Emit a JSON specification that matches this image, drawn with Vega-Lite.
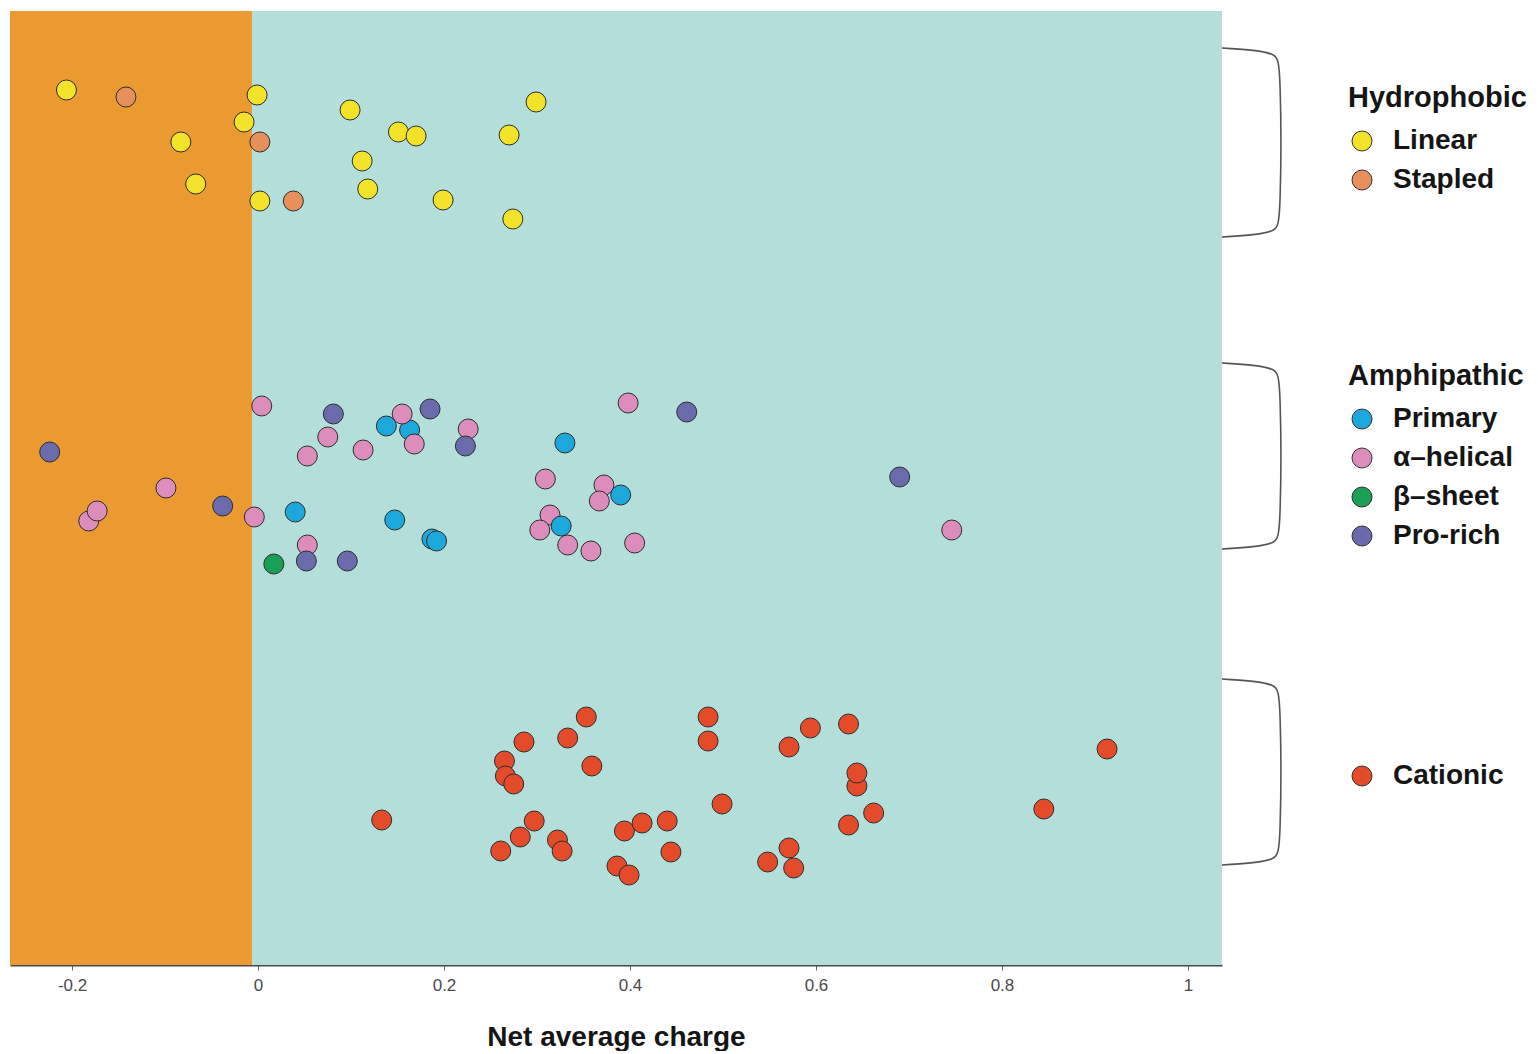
{
  "$schema": "https://vega.github.io/schema/vega-lite/v6.json",
  "width": 1212,
  "height": 954,
  "padding": {"left": 10, "top": 11, "right": 0, "bottom": 0},
  "background": "white",
  "config": {
    "view": {"stroke": null},
    "font": "Liberation Sans",
    "legend": {
      "orient": "none",
      "padding": 0,
      "titleFont": "Liberation Sans",
      "titleFontSize": 29,
      "titleFontWeight": "bold",
      "titleColor": "#151515",
      "titlePadding": 14,
      "labelFont": "Liberation Sans",
      "labelFontSize": 28,
      "labelFontWeight": "bold",
      "labelColor": "#151515",
      "labelOffset": 17,
      "symbolType": "circle",
      "symbolSize": 400,
      "symbolStrokeColor": "#333333",
      "symbolStrokeWidth": 1,
      "symbolOpacity": 1,
      "rowPadding": 11
    }
  },
  "datasets": {
    "regions": [
      {"region": "negative", "from": -0.2667, "to": -0.0065},
      {"region": "positive", "from": -0.0065, "to": 1.0366}
    ],
    "brackets": [
      {"group": "Hydrophobic", "i": 1, "x": 1.0366, "y": 917},
      {"group": "Hydrophobic", "i": 2, "x": 1.072, "y": 915},
      {"group": "Hydrophobic", "i": 3, "x": 1.0946, "y": 911},
      {"group": "Hydrophobic", "i": 4, "x": 1.1, "y": 901},
      {"group": "Hydrophobic", "i": 5, "x": 1.1, "y": 744},
      {"group": "Hydrophobic", "i": 6, "x": 1.0946, "y": 734},
      {"group": "Hydrophobic", "i": 7, "x": 1.072, "y": 730},
      {"group": "Hydrophobic", "i": 8, "x": 1.0366, "y": 728},
      {"group": "Amphipathic", "i": 1, "x": 1.0366, "y": 602},
      {"group": "Amphipathic", "i": 2, "x": 1.072, "y": 600},
      {"group": "Amphipathic", "i": 3, "x": 1.0946, "y": 596},
      {"group": "Amphipathic", "i": 4, "x": 1.1, "y": 586},
      {"group": "Amphipathic", "i": 5, "x": 1.1, "y": 432},
      {"group": "Amphipathic", "i": 6, "x": 1.0946, "y": 422},
      {"group": "Amphipathic", "i": 7, "x": 1.072, "y": 418},
      {"group": "Amphipathic", "i": 8, "x": 1.0366, "y": 416},
      {"group": "Cationic", "i": 1, "x": 1.0366, "y": 286},
      {"group": "Cationic", "i": 2, "x": 1.072, "y": 284},
      {"group": "Cationic", "i": 3, "x": 1.0946, "y": 280},
      {"group": "Cationic", "i": 4, "x": 1.1, "y": 270},
      {"group": "Cationic", "i": 5, "x": 1.1, "y": 116},
      {"group": "Cationic", "i": 6, "x": 1.0946, "y": 106},
      {"group": "Cationic", "i": 7, "x": 1.072, "y": 102},
      {"group": "Cationic", "i": 8, "x": 1.0366, "y": 100}
    ],
    "peptides": [
      {"class": "Hydrophobic", "type": "Linear", "charge": -0.206, "y": 875},
      {"class": "Hydrophobic", "type": "Linear", "charge": -0.001, "y": 870},
      {"class": "Hydrophobic", "type": "Linear", "charge": 0.099, "y": 855},
      {"class": "Hydrophobic", "type": "Linear", "charge": 0.299, "y": 863},
      {"class": "Hydrophobic", "type": "Linear", "charge": -0.015, "y": 843},
      {"class": "Hydrophobic", "type": "Linear", "charge": 0.151, "y": 833},
      {"class": "Hydrophobic", "type": "Linear", "charge": 0.170, "y": 829},
      {"class": "Hydrophobic", "type": "Linear", "charge": 0.270, "y": 830},
      {"class": "Hydrophobic", "type": "Linear", "charge": -0.083, "y": 823},
      {"class": "Hydrophobic", "type": "Linear", "charge": 0.112, "y": 804},
      {"class": "Hydrophobic", "type": "Linear", "charge": -0.067, "y": 781},
      {"class": "Hydrophobic", "type": "Linear", "charge": 0.118, "y": 776},
      {"class": "Hydrophobic", "type": "Linear", "charge": 0.002, "y": 764},
      {"class": "Hydrophobic", "type": "Linear", "charge": 0.199, "y": 765},
      {"class": "Hydrophobic", "type": "Linear", "charge": 0.274, "y": 746},
      {"class": "Hydrophobic", "type": "Stapled", "charge": -0.142, "y": 868},
      {"class": "Hydrophobic", "type": "Stapled", "charge": 0.002, "y": 823},
      {"class": "Hydrophobic", "type": "Stapled", "charge": 0.038, "y": 764},

      {"class": "Amphipathic", "type": "Primary", "charge": 0.163, "y": 535},
      {"class": "Amphipathic", "type": "Pro-rich", "charge": 0.081, "y": 551},
      {"class": "Amphipathic", "type": "α–helical", "charge": 0.004, "y": 559},
      {"class": "Amphipathic", "type": "α–helical", "charge": 0.155, "y": 551},
      {"class": "Amphipathic", "type": "α–helical", "charge": 0.075, "y": 528},
      {"class": "Amphipathic", "type": "α–helical", "charge": 0.053, "y": 509},
      {"class": "Amphipathic", "type": "α–helical", "charge": 0.113, "y": 515},
      {"class": "Amphipathic", "type": "α–helical", "charge": 0.168, "y": 521},
      {"class": "Amphipathic", "type": "α–helical", "charge": 0.226, "y": 536},
      {"class": "Amphipathic", "type": "α–helical", "charge": 0.398, "y": 562},
      {"class": "Amphipathic", "type": "α–helical", "charge": -0.099, "y": 477},
      {"class": "Amphipathic", "type": "α–helical", "charge": -0.182, "y": 444},
      {"class": "Amphipathic", "type": "α–helical", "charge": -0.173, "y": 454},
      {"class": "Amphipathic", "type": "α–helical", "charge": -0.004, "y": 448},
      {"class": "Amphipathic", "type": "α–helical", "charge": 0.053, "y": 420},
      {"class": "Amphipathic", "type": "α–helical", "charge": 0.309, "y": 486},
      {"class": "Amphipathic", "type": "α–helical", "charge": 0.372, "y": 480},
      {"class": "Amphipathic", "type": "α–helical", "charge": 0.367, "y": 464},
      {"class": "Amphipathic", "type": "α–helical", "charge": 0.314, "y": 450},
      {"class": "Amphipathic", "type": "α–helical", "charge": 0.303, "y": 435},
      {"class": "Amphipathic", "type": "α–helical", "charge": 0.333, "y": 420},
      {"class": "Amphipathic", "type": "α–helical", "charge": 0.358, "y": 414},
      {"class": "Amphipathic", "type": "α–helical", "charge": 0.405, "y": 422},
      {"class": "Amphipathic", "type": "α–helical", "charge": 0.746, "y": 435},
      {"class": "Amphipathic", "type": "Primary", "charge": 0.138, "y": 539},
      {"class": "Amphipathic", "type": "Primary", "charge": 0.330, "y": 522},
      {"class": "Amphipathic", "type": "Primary", "charge": 0.390, "y": 470},
      {"class": "Amphipathic", "type": "Primary", "charge": 0.040, "y": 453},
      {"class": "Amphipathic", "type": "Primary", "charge": 0.147, "y": 445},
      {"class": "Amphipathic", "type": "Primary", "charge": 0.326, "y": 439},
      {"class": "Amphipathic", "type": "Primary", "charge": 0.187, "y": 426},
      {"class": "Amphipathic", "type": "Primary", "charge": 0.192, "y": 424},
      {"class": "Amphipathic", "type": "Pro-rich", "charge": -0.224, "y": 513},
      {"class": "Amphipathic", "type": "Pro-rich", "charge": -0.038, "y": 459},
      {"class": "Amphipathic", "type": "Pro-rich", "charge": 0.185, "y": 556},
      {"class": "Amphipathic", "type": "Pro-rich", "charge": 0.223, "y": 519},
      {"class": "Amphipathic", "type": "Pro-rich", "charge": 0.461, "y": 553},
      {"class": "Amphipathic", "type": "Pro-rich", "charge": 0.690, "y": 488},
      {"class": "Amphipathic", "type": "Pro-rich", "charge": 0.052, "y": 404},
      {"class": "Amphipathic", "type": "Pro-rich", "charge": 0.096, "y": 404},
      {"class": "Amphipathic", "type": "β–sheet", "charge": 0.017, "y": 401},

      {"class": "Cationic", "type": "Cationic", "charge": 0.353, "y": 248},
      {"class": "Cationic", "type": "Cationic", "charge": 0.484, "y": 248},
      {"class": "Cationic", "type": "Cationic", "charge": 0.286, "y": 223},
      {"class": "Cationic", "type": "Cationic", "charge": 0.333, "y": 227},
      {"class": "Cationic", "type": "Cationic", "charge": 0.484, "y": 224},
      {"class": "Cationic", "type": "Cationic", "charge": 0.265, "y": 204},
      {"class": "Cationic", "type": "Cationic", "charge": 0.266, "y": 189},
      {"class": "Cationic", "type": "Cationic", "charge": 0.275, "y": 181},
      {"class": "Cationic", "type": "Cationic", "charge": 0.359, "y": 199},
      {"class": "Cationic", "type": "Cationic", "charge": 0.133, "y": 145},
      {"class": "Cationic", "type": "Cationic", "charge": 0.499, "y": 161},
      {"class": "Cationic", "type": "Cationic", "charge": 0.297, "y": 144},
      {"class": "Cationic", "type": "Cationic", "charge": 0.282, "y": 128},
      {"class": "Cationic", "type": "Cationic", "charge": 0.261, "y": 114},
      {"class": "Cationic", "type": "Cationic", "charge": 0.322, "y": 125},
      {"class": "Cationic", "type": "Cationic", "charge": 0.327, "y": 114},
      {"class": "Cationic", "type": "Cationic", "charge": 0.394, "y": 134},
      {"class": "Cationic", "type": "Cationic", "charge": 0.413, "y": 142},
      {"class": "Cationic", "type": "Cationic", "charge": 0.440, "y": 144},
      {"class": "Cationic", "type": "Cationic", "charge": 0.444, "y": 113},
      {"class": "Cationic", "type": "Cationic", "charge": 0.386, "y": 99},
      {"class": "Cationic", "type": "Cationic", "charge": 0.399, "y": 90},
      {"class": "Cationic", "type": "Cationic", "charge": 0.594, "y": 237},
      {"class": "Cationic", "type": "Cationic", "charge": 0.635, "y": 241},
      {"class": "Cationic", "type": "Cationic", "charge": 0.571, "y": 218},
      {"class": "Cationic", "type": "Cationic", "charge": 0.913, "y": 216},
      {"class": "Cationic", "type": "Cationic", "charge": 0.644, "y": 179},
      {"class": "Cationic", "type": "Cationic", "charge": 0.644, "y": 192},
      {"class": "Cationic", "type": "Cationic", "charge": 0.662, "y": 152},
      {"class": "Cationic", "type": "Cationic", "charge": 0.635, "y": 140},
      {"class": "Cationic", "type": "Cationic", "charge": 0.845, "y": 156},
      {"class": "Cationic", "type": "Cationic", "charge": 0.571, "y": 117},
      {"class": "Cationic", "type": "Cationic", "charge": 0.548, "y": 103},
      {"class": "Cationic", "type": "Cationic", "charge": 0.576, "y": 97}
    ]
  },
  "layer": [
    {
      "data": {"name": "regions"},
      "mark": {"type": "rect"},
      "encoding": {
        "x": {
          "field": "from",
          "type": "quantitative",
          "scale": {"domain": [-0.2667, 1.0366], "nice": false, "zero": false},
          "axis": {
            "title": "Net average charge",
            "values": [-0.2, 0, 0.2, 0.4, 0.6, 0.8, 1],
            "labelExpr": "toString(datum.value)",
            "grid": false,
            "domainColor": "#4a4a4a",
            "domainWidth": 2,
            "tickColor": "#666666",
            "tickSize": 5,
            "tickWidth": 1,
            "labelFont": "Liberation Sans",
            "labelFontSize": 17,
            "labelColor": "#4a4a4a",
            "labelPadding": 7,
            "titleFont": "Liberation Sans",
            "titleFontSize": 28,
            "titleFontWeight": "bold",
            "titleColor": "#151515",
            "titlePadding": 30
          }
        },
        "x2": {"field": "to"},
        "fill": {
          "field": "region",
          "type": "nominal",
          "scale": {"domain": ["negative", "positive"], "range": ["#EA9A31", "#B3DED9"]},
          "legend": null
        }
      }
    },
    {
      "data": {"name": "brackets"},
      "mark": {"type": "line", "interpolate": "basis", "clip": false, "stroke": "#555555", "strokeWidth": 1.6},
      "encoding": {
        "x": {"field": "x", "type": "quantitative"},
        "y": {"field": "y", "type": "quantitative", "scale": {"domain": [0, 954], "nice": false, "zero": false}, "axis": null},
        "detail": {"field": "group", "type": "nominal"},
        "order": {"field": "i", "type": "quantitative"}
      }
    },
    {
      "data": {"name": "peptides"},
      "transform": [{"filter": "datum['class'] === 'Hydrophobic'"}],
      "mark": {"type": "circle", "size": 400, "opacity": 1, "stroke": "#2e2e2e", "strokeWidth": 1},
      "encoding": {
        "x": {"field": "charge", "type": "quantitative"},
        "y": {"field": "y", "type": "quantitative"},
        "color": {
          "field": "type",
          "type": "nominal",
          "scale": {"domain": ["Linear", "Stapled"], "range": ["#F3E22A", "#E8905C"]},
          "legend": {"title": "Hydrophobic", "legendX": 1338, "legendY": 73}
        }
      }
    },
    {
      "data": {"name": "peptides"},
      "transform": [{"filter": "datum['class'] === 'Amphipathic'"}],
      "mark": {"type": "circle", "size": 400, "opacity": 1, "stroke": "#2e2e2e", "strokeWidth": 1},
      "encoding": {
        "x": {"field": "charge", "type": "quantitative"},
        "y": {"field": "y", "type": "quantitative"},
        "color": {
          "field": "type",
          "type": "nominal",
          "scale": {"domain": ["Primary", "α–helical", "β–sheet", "Pro-rich"], "range": ["#1DA8DC", "#DD8DBB", "#1B9E55", "#6B6AAC"]},
          "legend": {"title": "Amphipathic", "legendX": 1338, "legendY": 351}
        }
      }
    },
    {
      "data": {"name": "peptides"},
      "transform": [{"filter": "datum['class'] === 'Cationic'"}],
      "mark": {"type": "circle", "size": 400, "opacity": 1, "stroke": "#2e2e2e", "strokeWidth": 1},
      "encoding": {
        "x": {"field": "charge", "type": "quantitative"},
        "y": {"field": "y", "type": "quantitative"},
        "color": {
          "field": "type",
          "type": "nominal",
          "scale": {"domain": ["Cationic"], "range": ["#E34B2B"]},
          "legend": {"title": null, "legendX": 1338, "legendY": 751}
        }
      }
    }
  ],
  "resolve": {"scale": {"color": "independent"}}
}
